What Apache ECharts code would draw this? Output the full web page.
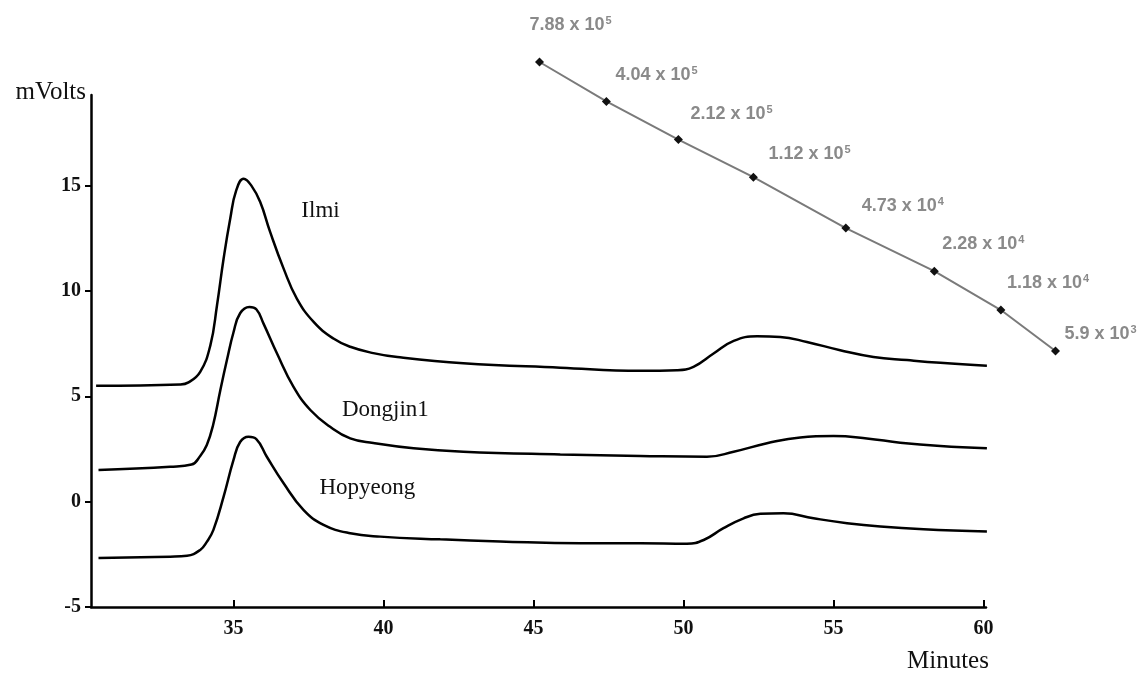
<!DOCTYPE html>
<html>
<head>
<meta charset="utf-8">
<script src="https://cdn.jsdelivr.net/npm/echarts@6/dist/echarts.min.js"></script>
<style>
  html, body { margin: 0; padding: 0; background: #fff; }
  #main { width: 1137px; height: 676px; }
</style>
</head>
<body>
<div id="main"></div>
<script>
// chromatogram traces (time in minutes, signal in mV)
var ilmiTime = [30.42, 33.22, 33.5, 33.89, 34.23, 34.45, 34.67, 34.89, 35.09, 35.34, 35.59, 35.89, 36.22, 36.67, 37.11, 37.67, 38.33, 38.89, 39.66, 40.46, 42.66, 45.89, 48.56, 49.78, 50.33, 51.0, 51.67, 52.45, 53.22, 54.11, 55.22, 56.33, 57.45, 58.56, 60.11];
var ilmiMv   = [5.50, 5.56, 5.66, 6.16, 7.43, 9.32, 11.54, 13.43, 14.77, 15.32, 15.01, 14.22, 12.80, 11.06, 9.64, 8.53, 7.74, 7.35, 7.05, 6.86, 6.57, 6.36, 6.21, 6.24, 6.40, 7.03, 7.63, 7.85, 7.82, 7.58, 7.19, 6.87, 6.72, 6.59, 6.45];

var dongjinTime = [30.5, 32.89, 33.6, 33.89, 34.11, 34.32, 34.56, 34.78, 35.0, 35.22, 35.53, 35.76, 36.0, 36.45, 37.0, 37.56, 38.22, 38.89, 39.66, 41.0, 42.66, 45.89, 48.56, 50.78, 51.67, 52.78, 53.89, 55.0, 56.11, 57.22, 58.56, 60.11];
var dongjinMv   = [1.50, 1.66, 1.76, 2.17, 2.69, 3.64, 5.29, 6.72, 8.04, 8.94, 9.24, 9.13, 8.45, 7.03, 5.45, 4.35, 3.55, 3.00, 2.78, 2.53, 2.37, 2.24, 2.17, 2.13, 2.37, 2.77, 3.05, 3.11, 3.00, 2.80, 2.64, 2.53];

var hopyeongTime = [30.5, 32.89, 33.45, 33.89, 34.11, 34.33, 34.67, 35.0, 35.22, 35.5, 35.76, 36.11, 36.67, 37.33, 38.0, 38.89, 39.89, 41.89, 43.89, 46.56, 48.56, 50.11, 50.67, 51.33, 52.0, 52.56, 53.33, 54.33, 55.45, 56.56, 58.0, 60.11];
var hopyeongMv   = [-2.68, -2.61, -2.57, -2.29, -1.91, -1.34, 0.24, 1.98, 2.83, 3.08, 2.97, 2.13, 0.87, -0.39, -1.10, -1.50, -1.66, -1.79, -1.89, -1.98, -1.98, -2.00, -1.82, -1.26, -0.79, -0.58, -0.55, -0.79, -1.02, -1.18, -1.31, -1.42];

// molecular weight calibration standards
var calTime     = [45.2, 47.43, 49.83, 52.33, 55.41, 58.36, 60.58, 62.4];
var calMantissa = ['7.88', '4.04', '2.12', '1.12', '4.73', '2.28', '1.18', '5.9'];
var calExponent = [5, 5, 5, 5, 4, 4, 4, 3];

var xTicks = [35, 40, 45, 50, 55, 60];
var yTicks = [-5, 0, 5, 10, 15];

// label nudges for the calibration texts (px, relative to marker)
var calLabelShift = [[-10, -37], [9, -26], [12, -25], [15, -23], [16, -22], [8, -27], [6, -27], [9, -17]];

function zip(a, b) {
	var out = [];
	for (var i = 0; i < a.length; i++) out.push([a[i], b[i]]);
	return out;
}

var chart = echarts.init(document.getElementById('main'));

var calData = [];
for (var i = 0; i < calTime.length; i++) {
	var mw = parseFloat(calMantissa[i]) * Math.pow(10, calExponent[i]);
	calData.push({
		value: [calTime[i], Math.log10(mw)],
		label: { offset: calLabelShift[i] },
		txt: calMantissa[i] + ' x 10',
		sup: calExponent[i]
	});
}

var serif = "'Liberation Serif', 'Times New Roman', serif";
var sans = "'Liberation Sans', Arial, sans-serif";
var traceLine = { color: '#000', width: 2.5 };

function labelPoint(name, coord) {
	return {
		symbol: 'rect',
		symbolSize: [1, 1],
		itemStyle: { color: 'rgba(0,0,0,0)' },
		label: { show: true, position: 'inside', formatter: name, color: '#111', fontSize: 23, fontFamily: serif },
		data: [{ coord: coord }]
	};
}

var option = {
	backgroundColor: '#fff',
	animation: false,
	grid: [
		{ left: 91, top: 95, width: 895, height: 512 },
		{ left: 91, top: 62, width: 970.5, height: 289 }
	],
	xAxis: [{
		type: 'value', gridIndex: 0, min: 30.25, max: 60.08,
		splitLine: { show: false },
		axisLine: { onZero: false, lineStyle: { color: '#000', width: 2.5 } },
		axisTick: { customValues: xTicks, inside: true, length: 7, lineStyle: { color: '#000', width: 2 } },
		axisLabel: { customValues: xTicks, margin: 12, color: '#111', fontSize: 20, fontWeight: 'bold', fontFamily: serif }
	}, {
		type: 'value', gridIndex: 1, min: 30.25, max: 62.6, show: false
	}],
	yAxis: [{
		type: 'value', gridIndex: 0, min: -5, max: 19.3,
		name: 'mVolts', nameLocation: 'end', nameGap: 3,
		nameTextStyle: { align: 'right', verticalAlign: 'middle', padding: [0, 5, 0, 0], color: '#111', fontSize: 25, fontFamily: serif },
		splitLine: { show: false },
		axisLine: { show: true, onZero: false, lineStyle: { color: '#000', width: 2.5 } },
		axisTick: { show: true, customValues: yTicks, length: 6, lineStyle: { color: '#000', width: 2 } },
		axisLabel: { customValues: yTicks, margin: 10, color: '#111', fontSize: 20, fontWeight: 'bold', fontFamily: serif }
	}, {
		type: 'value', gridIndex: 1, min: Math.log10(5900), max: Math.log10(788000), show: false
	}],
	graphic: [{
		type: 'text', left: 907, top: 649,
		style: { text: 'Minutes', fill: '#111', font: '25px ' + serif }
	}],
	series: [{
		name: 'Ilmi', type: 'line', xAxisIndex: 0, yAxisIndex: 0,
		data: zip(ilmiTime, ilmiMv), showSymbol: false, clip: false,
		smooth: 0.45, lineStyle: traceLine,
		markPoint: labelPoint('Ilmi', [37.9, 13.8])
	}, {
		name: 'Dongjin1', type: 'line', xAxisIndex: 0, yAxisIndex: 0,
		data: zip(dongjinTime, dongjinMv), showSymbol: false, clip: false,
		smooth: 0.45, lineStyle: traceLine,
		markPoint: labelPoint('Dongjin1', [40.06, 4.35])
	}, {
		name: 'Hopyeong', type: 'line', xAxisIndex: 0, yAxisIndex: 0,
		data: zip(hopyeongTime, hopyeongMv), showSymbol: false, clip: false,
		smooth: 0.45, lineStyle: traceLine,
		markPoint: labelPoint('Hopyeong', [39.46, 0.64])
	}, {
		name: 'calibration', type: 'line', xAxisIndex: 1, yAxisIndex: 1,
		data: calData, clip: false,
		symbol: 'diamond', symbolSize: 9, showAllSymbol: true,
		itemStyle: { color: '#111' },
		lineStyle: { color: '#7a7a7a', width: 2 },
		label: {
			show: true, position: 'inside', align: 'left', verticalAlign: 'middle',
			formatter: function (p) { return '{b|' + p.data.txt + '}{s|' + p.data.sup + '}'; },
			rich: {
				b: { fontSize: 18, fontWeight: 'bold', color: '#8a8a8a', fontFamily: sans, lineHeight: 20 },
				s: { fontSize: 11, fontWeight: 'bold', color: '#8a8a8a', fontFamily: sans, padding: [0, 0, 9, 1] }
			}
		}
	}]
};

chart.setOption(option);
</script>
</body>
</html>
